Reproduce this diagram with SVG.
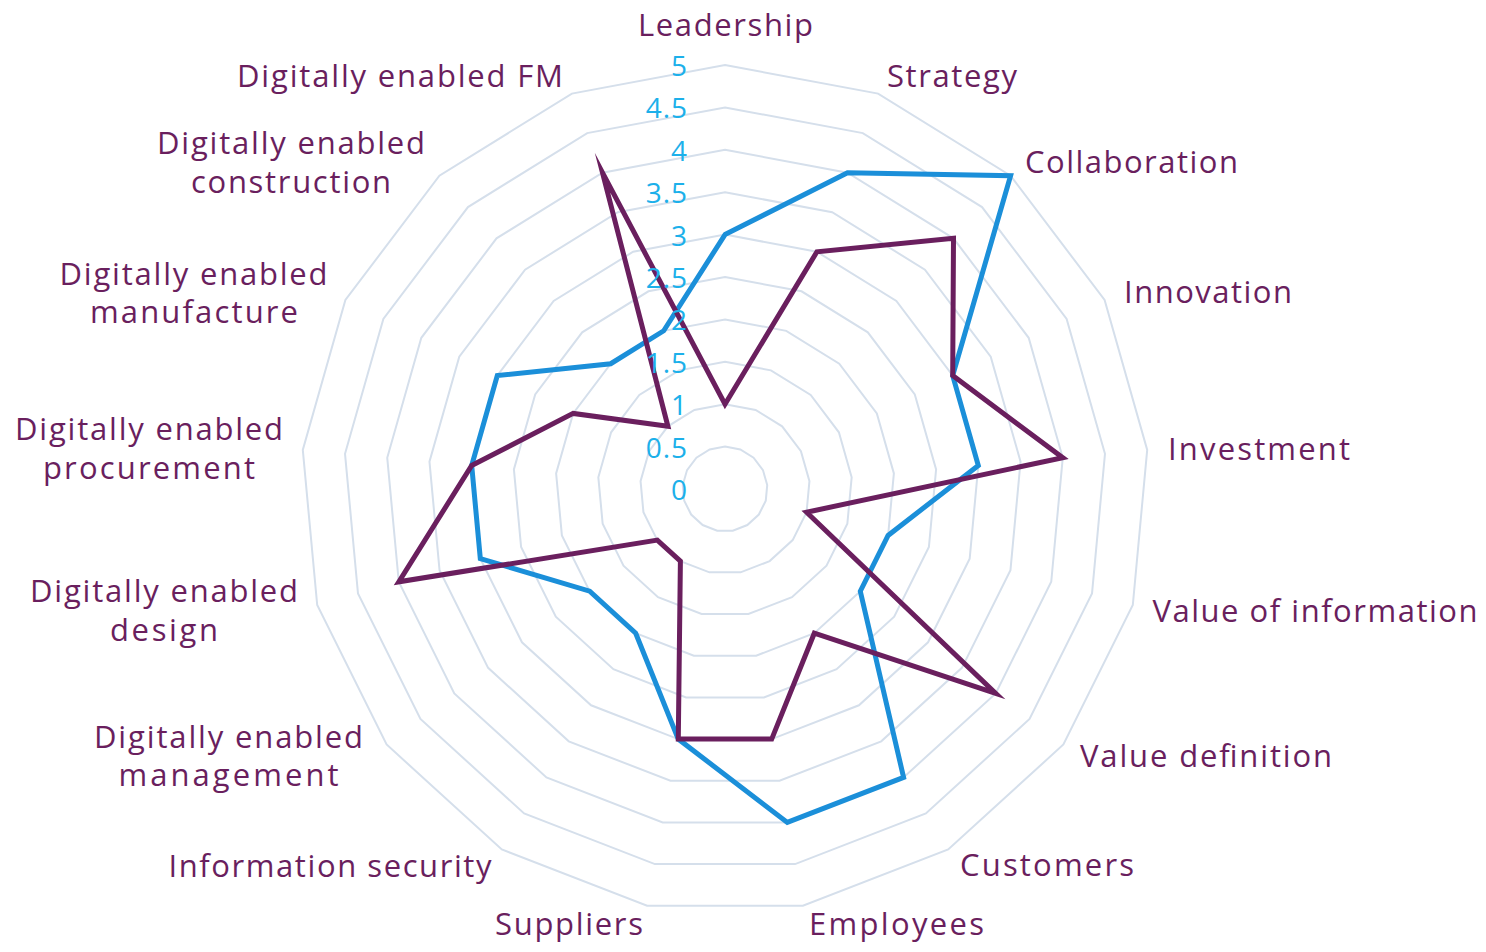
<svg xmlns="http://www.w3.org/2000/svg" width="1486" height="952" viewBox="0 0 1486 952">
  <style>
    .ring { fill: none; stroke: #d5dfeb; stroke-width: 2; vector-effect: non-scaling-stroke; }
    .tick { font-family: "Open Sans", "Liberation Sans", sans-serif; font-size: 28px; fill: #1cb0ea; text-anchor: end; letter-spacing: 1px; }
    .lbl { font-family: "Open Sans", "Liberation Sans", sans-serif; font-size: 31px; fill: #6a1f5e; text-anchor: middle; }
    .series { fill: none; stroke-width: 5; stroke-linejoin: miter; stroke-miterlimit: 10; }
    .blue { stroke: #1b8fd9; }
    .purple { stroke: #6a1f5e; }
  </style>
  <rect width="1486" height="952" fill="#ffffff"/>
  <g id="grid">
    <polygon class="ring" transform="translate(725 489) scale(0.1)" points="0,-424 153.1,-395.4 285.6,-313.3 379.6,-189 422.2,-39.1 407.8,116 338.4,255.5 223.2,360.5 77.9,416.8 -77.9,416.8 -223.2,360.5 -338.4,255.5 -407.8,116 -422.2,-39.1 -379.6,-189 -285.6,-313.3 -153.1,-395.4"/>
    <polygon class="ring" transform="translate(725 489) scale(0.2)" points="0,-424 153.1,-395.4 285.6,-313.3 379.6,-189 422.2,-39.1 407.8,116 338.4,255.5 223.2,360.5 77.9,416.8 -77.9,416.8 -223.2,360.5 -338.4,255.5 -407.8,116 -422.2,-39.1 -379.6,-189 -285.6,-313.3 -153.1,-395.4"/>
    <polygon class="ring" transform="translate(725 489) scale(0.3)" points="0,-424 153.1,-395.4 285.6,-313.3 379.6,-189 422.2,-39.1 407.8,116 338.4,255.5 223.2,360.5 77.9,416.8 -77.9,416.8 -223.2,360.5 -338.4,255.5 -407.8,116 -422.2,-39.1 -379.6,-189 -285.6,-313.3 -153.1,-395.4"/>
    <polygon class="ring" transform="translate(725 489) scale(0.4)" points="0,-424 153.1,-395.4 285.6,-313.3 379.6,-189 422.2,-39.1 407.8,116 338.4,255.5 223.2,360.5 77.9,416.8 -77.9,416.8 -223.2,360.5 -338.4,255.5 -407.8,116 -422.2,-39.1 -379.6,-189 -285.6,-313.3 -153.1,-395.4"/>
    <polygon class="ring" transform="translate(725 489) scale(0.5)" points="0,-424 153.1,-395.4 285.6,-313.3 379.6,-189 422.2,-39.1 407.8,116 338.4,255.5 223.2,360.5 77.9,416.8 -77.9,416.8 -223.2,360.5 -338.4,255.5 -407.8,116 -422.2,-39.1 -379.6,-189 -285.6,-313.3 -153.1,-395.4"/>
    <polygon class="ring" transform="translate(725 489) scale(0.6)" points="0,-424 153.1,-395.4 285.6,-313.3 379.6,-189 422.2,-39.1 407.8,116 338.4,255.5 223.2,360.5 77.9,416.8 -77.9,416.8 -223.2,360.5 -338.4,255.5 -407.8,116 -422.2,-39.1 -379.6,-189 -285.6,-313.3 -153.1,-395.4"/>
    <polygon class="ring" transform="translate(725 489) scale(0.7)" points="0,-424 153.1,-395.4 285.6,-313.3 379.6,-189 422.2,-39.1 407.8,116 338.4,255.5 223.2,360.5 77.9,416.8 -77.9,416.8 -223.2,360.5 -338.4,255.5 -407.8,116 -422.2,-39.1 -379.6,-189 -285.6,-313.3 -153.1,-395.4"/>
    <polygon class="ring" transform="translate(725 489) scale(0.8)" points="0,-424 153.1,-395.4 285.6,-313.3 379.6,-189 422.2,-39.1 407.8,116 338.4,255.5 223.2,360.5 77.9,416.8 -77.9,416.8 -223.2,360.5 -338.4,255.5 -407.8,116 -422.2,-39.1 -379.6,-189 -285.6,-313.3 -153.1,-395.4"/>
    <polygon class="ring" transform="translate(725 489) scale(0.9)" points="0,-424 153.1,-395.4 285.6,-313.3 379.6,-189 422.2,-39.1 407.8,116 338.4,255.5 223.2,360.5 77.9,416.8 -77.9,416.8 -223.2,360.5 -338.4,255.5 -407.8,116 -422.2,-39.1 -379.6,-189 -285.6,-313.3 -153.1,-395.4"/>
    <polygon class="ring" transform="translate(725 489)" points="0,-424 153.1,-395.4 285.6,-313.3 379.6,-189 422.2,-39.1 407.8,116 338.4,255.5 223.2,360.5 77.9,416.8 -77.9,416.8 -223.2,360.5 -338.4,255.5 -407.8,116 -422.2,-39.1 -379.6,-189 -285.6,-313.3 -153.1,-395.4"/>
  </g>
  <g id="connectors">
    <polygon id="series-blue" class="series blue" points="725,234.6 847.5,172.7 1010.6,175.7 952.7,375.6 978.3,465.5 888.1,535.4 860.3,591.2 903.6,777.4 787.3,822.4 678.3,739.1 635.7,633.2 589.7,591.2 480.3,558.6 471.7,465.5 497.3,375.6 610.7,363.7 663.7,330.8"/>
    <polygon id="series-purple" class="series purple" points="725,404.2 816.9,251.8 953.5,238.3 952.7,375.6 1062.8,457.7 806.6,512.2 995.7,693.4 814.3,633.2 771.7,739.1 678.3,739.1 680.4,561.1 657.3,540.1 398.8,581.8 471.7,465.5 573.2,413.4 667.9,426.3 602.5,172.7"/>
  </g>
  <g id="ticks">
    <text class="tick" x="688" y="500">0</text>
    <text class="tick" x="688" y="457.6">0.5</text>
    <text class="tick" x="688" y="415.2">1</text>
    <text class="tick" x="688" y="372.8">1.5</text>
    <text class="tick" x="688" y="330.4">2</text>
    <text class="tick" x="688" y="288">2.5</text>
    <text class="tick" x="688" y="245.6">3</text>
    <text class="tick" x="688" y="203.2">3.5</text>
    <text class="tick" x="688" y="160.8">4</text>
    <text class="tick" x="688" y="118.4">4.5</text>
    <text class="tick" x="688" y="76">5</text>
  </g>
  <g id="node-leadership"><text class="lbl" x="725.5" y="36" textLength="175" lengthAdjust="spacing">Leadership</text></g>
  <g id="node-strategy"><text class="lbl" x="952" y="87" textLength="130" lengthAdjust="spacing">Strategy</text></g>
  <g id="node-collaboration"><text class="lbl" x="1131.5" y="173" textLength="213" lengthAdjust="spacing">Collaboration</text></g>
  <g id="node-innovation"><text class="lbl" x="1208" y="303" textLength="168" lengthAdjust="spacing">Innovation</text></g>
  <g id="node-investment"><text class="lbl" x="1259" y="460" textLength="182" lengthAdjust="spacing">Investment</text></g>
  <g id="node-value-information"><text class="lbl" x="1315" y="622" textLength="325" lengthAdjust="spacing">Value of information</text></g>
  <g id="node-value-definition"><text class="lbl" x="1206" y="767" textLength="252" lengthAdjust="spacing">Value definition</text></g>
  <g id="node-customers"><text class="lbl" x="1047" y="876" textLength="174" lengthAdjust="spacing">Customers</text></g>
  <g id="node-employees"><text class="lbl" x="896.5" y="935" textLength="175" lengthAdjust="spacing">Employees</text></g>
  <g id="node-suppliers"><text class="lbl" x="569" y="935" textLength="148" lengthAdjust="spacing">Suppliers</text></g>
  <g id="node-information-security"><text class="lbl" x="330" y="877" textLength="323" lengthAdjust="spacing">Information security</text></g>
  <g id="node-de-management">
    <text class="lbl" x="228.5" y="748" textLength="269" lengthAdjust="spacing">Digitally enabled</text>
    <text class="lbl" x="228.5" y="786" textLength="220" lengthAdjust="spacing">management</text>
  </g>
  <g id="node-de-design">
    <text class="lbl" x="164" y="602" textLength="268" lengthAdjust="spacing">Digitally enabled</text>
    <text class="lbl" x="164" y="641" textLength="108" lengthAdjust="spacing">design</text>
  </g>
  <g id="node-de-procurement">
    <text class="lbl" x="149" y="440" textLength="268" lengthAdjust="spacing">Digitally enabled</text>
    <text class="lbl" x="149" y="479" textLength="212" lengthAdjust="spacing">procurement</text>
  </g>
  <g id="node-de-manufacture">
    <text class="lbl" x="193.5" y="285" textLength="268" lengthAdjust="spacing">Digitally enabled</text>
    <text class="lbl" x="194" y="323" textLength="208" lengthAdjust="spacing">manufacture</text>
  </g>
  <g id="node-de-construction">
    <text class="lbl" x="291" y="154" textLength="268" lengthAdjust="spacing">Digitally enabled</text>
    <text class="lbl" x="291" y="193" textLength="200" lengthAdjust="spacing">construction</text>
  </g>
  <g id="node-de-fm"><text class="lbl" x="400" y="87" textLength="326" lengthAdjust="spacing">Digitally enabled FM</text></g>
</svg>
